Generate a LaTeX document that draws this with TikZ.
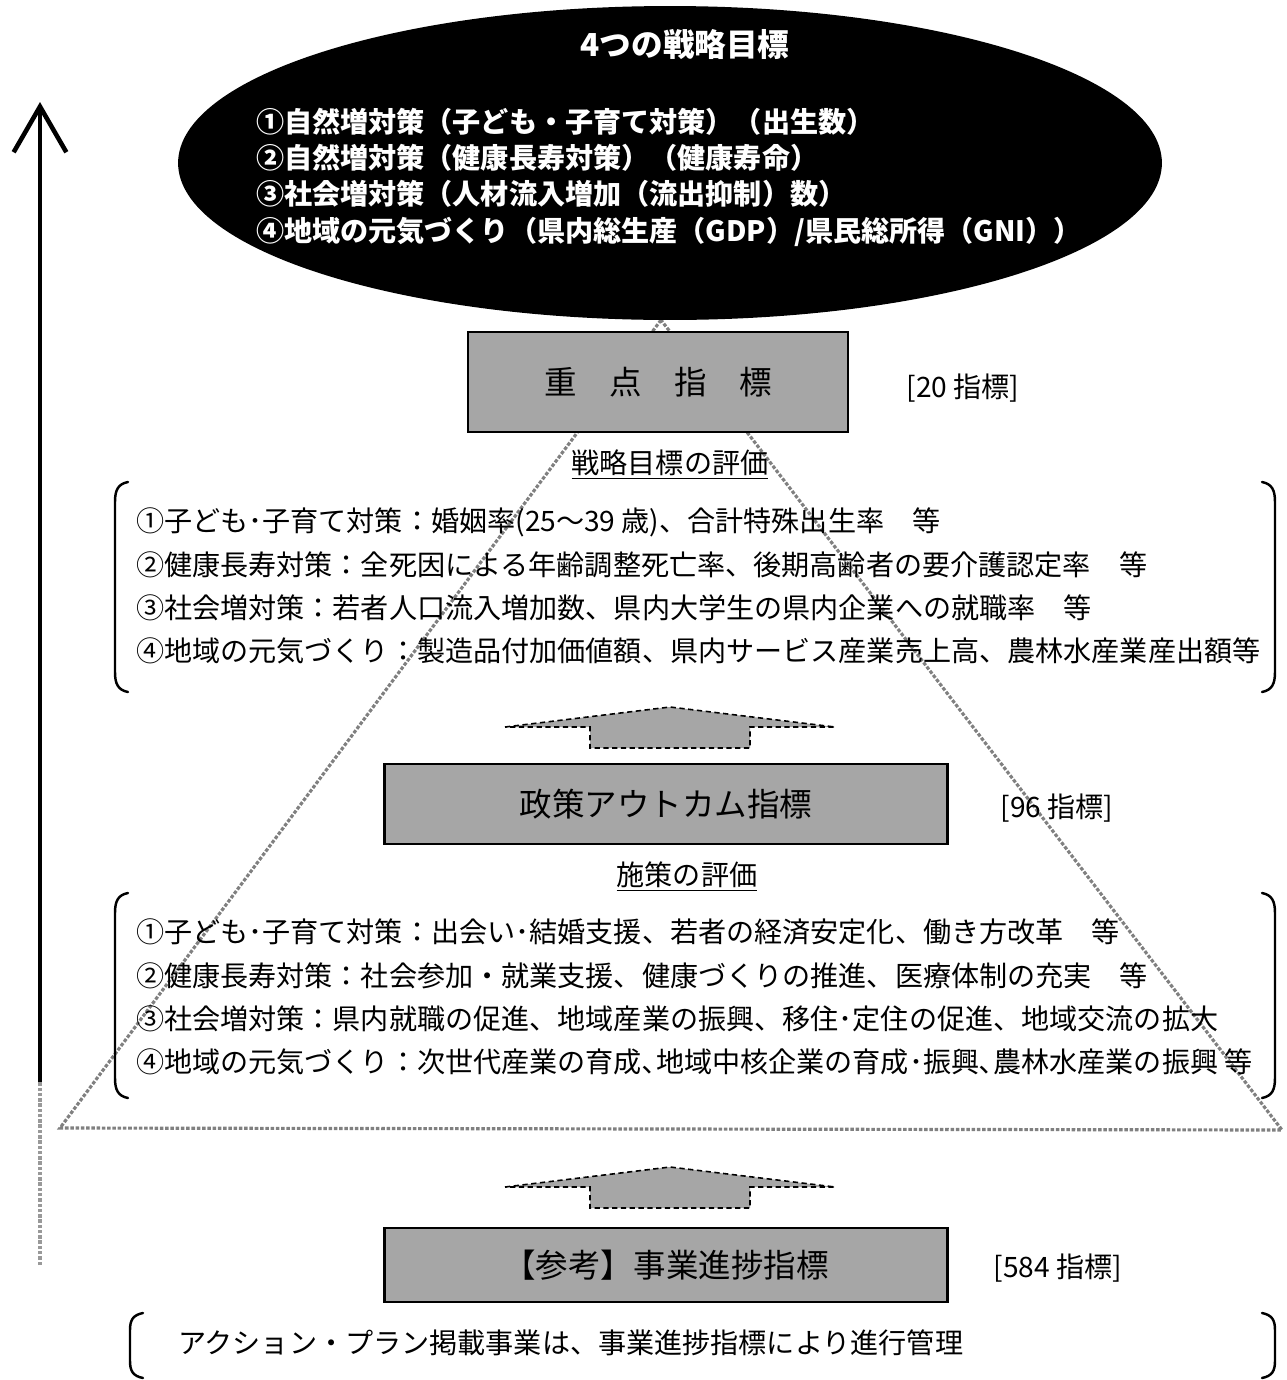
\documentclass[tikz,border=0pt]{standalone}
\usepackage{fontspec}
\setmainfont{Noto Sans CJK JP}
\usetikzlibrary{positioning}
\usetikzlibrary{arrows.meta,shapes.geometric}

\begin{document}
\begin{tikzpicture}[x=0.02cm,y=-0.02cm,
  every node/.style={inner sep=0pt,outer sep=0pt},
  body/.style={font=\fontsize{16}{24.6}\selectfont,align=left,anchor=west},
  indexbox/.style={draw=black,line width=1.6pt,fill=black!35,font=\fontsize{18.5}{22}\selectfont},
  count/.style={font=\fontsize{16}{20}\selectfont},
  heading/.style={font=\fontsize{16}{20}\selectfont},
  pyramid/.style={draw=black!50,line width=1.8pt,dash pattern=on 2pt off 1pt},
  bracket/.style={line width=1.4pt,line cap=round},
  upblock/.style={fill=black!35,draw=black,densely dashed,line width=0.9pt}]

\useasboundingbox (0,0) rectangle (1286,1380);

\coordinate (risebase) at (40,1265);
\coordinate (risemid) at (40,1082);
\coordinate (risetop) at (40,102);
\draw[black!40,line width=2.8pt,dash pattern=on 2pt off 1pt] (risebase) -- (risemid);
\draw[line width=2.8pt,-{Straight Barb[length=26pt,width=30pt,line width=2.6pt]}] (risemid) -- (risetop);

\draw[pyramid] (661,320) -- (60,1128) -- (1282,1130) -- cycle;

\node[ellipse,fill=black,minimum width=19.68cm,minimum height=6.28cm] (goals) at (670,163) {};
\node[font=\bfseries\fontsize{18}{22}\selectfont,text=white] (goaltitle) at (685,45) {4つの戦略目標};
\node[font=\bfseries\fontsize{16}{20.7}\selectfont,text=white,align=left,anchor=west] (goallist) at (256,177)
  {①自然増対策（子ども・子育て対策）（出生数）\\
   ②自然増対策（健康長寿対策）（健康寿命）\\
   ③社会増対策（人材流入増加（流出抑制）数）\\
   ④地域の元気づくり（県内総生産（GDP）/県民総所得（GNI））};

\node[indexbox,minimum width=7.6cm,minimum height=2cm] (keyidx) at (658,382) {重　点　指　標};
\node[count] (keycount) at (963,388) {[20 指標]};
\node[heading] (keyhead) at (670,465) {\underline{戦略目標の評価}};

\draw[bracket] (128,482) .. controls (118,484) and (115,490) .. (115,502) -- (115,672) .. controls (115,684) and (118,690) .. (128,692);
\draw[bracket] (1262,482) .. controls (1272,484) and (1275,490) .. (1275,502) -- (1275,672) .. controls (1275,684) and (1272,690) .. (1262,692);
\node[body] (keylist) at (136,586)
  {①子ども･子育て対策：婚姻率(25～39 歳)、合計特殊出生率　等\\
   ②健康長寿対策：全死因による年齢調整死亡率、後期高齢者の要介護認定率　等\\
   ③社会増対策：若者人口流入増加数、県内大学生の県内企業への就職率　等\\
   ④地域の元気づくり：製造品付加価値額、県内サービス産業売上高、農林水産業産出額等};

\filldraw[upblock] (505,727) -- (670,707) -- (835,727) -- (750,727) -- (750,748) -- (590,748) -- (590,727) -- cycle;

\node[indexbox,minimum width=11.26cm,minimum height=1.6cm] (outidx) at (666,804) {政策アウトカム指標};
\node[count] (outcount) at (1057,808) {[96 指標]};
\node[heading] (outhead) at (687,877) {\underline{施策の評価}};

\draw[bracket] (128,893) .. controls (118,895) and (115,901) .. (115,913) -- (115,1078) .. controls (115,1090) and (118,1096) .. (128,1098);
\draw[bracket] (1262,893) .. controls (1272,895) and (1275,901) .. (1275,913) -- (1275,1078) .. controls (1275,1090) and (1272,1096) .. (1262,1098);
\node[body] (outlist) at (136,997)
  {①子ども･子育て対策：出会い･結婚支援、若者の経済安定化、働き方改革　等\\
   ②健康長寿対策：社会参加・就業支援、健康づくりの推進、医療体制の充実　等\\
   ③社会増対策：県内就職の促進、地域産業の振興、移住･定住の促進、地域交流の拡大\\
   ④地域の元気づくり：次世代産業の育成､地域中核企業の育成･振興､農林水産業の振興 等};

\filldraw[upblock] (505,1187) -- (670,1167) -- (835,1187) -- (750,1187) -- (750,1208) -- (590,1208) -- (590,1187) -- cycle;

\node[indexbox,minimum width=11.26cm,minimum height=1.48cm] (projidx) at (666,1265) {【参考】事業進捗指標};
\node[count] (projcount) at (1058,1268) {[584 指標]};

\draw[bracket] (143,1313) .. controls (133,1315) and (130,1320) .. (130,1330) -- (130,1361) .. controls (130,1371) and (133,1376) .. (143,1378);
\draw[bracket] (1262,1313) .. controls (1272,1315) and (1275,1320) .. (1275,1330) -- (1275,1361) .. controls (1275,1371) and (1272,1376) .. (1262,1378);
\node[body] (projnote) at (178,1343) {アクション・プラン掲載事業は、事業進捗指標により進行管理};

\end{tikzpicture}
\end{document}
